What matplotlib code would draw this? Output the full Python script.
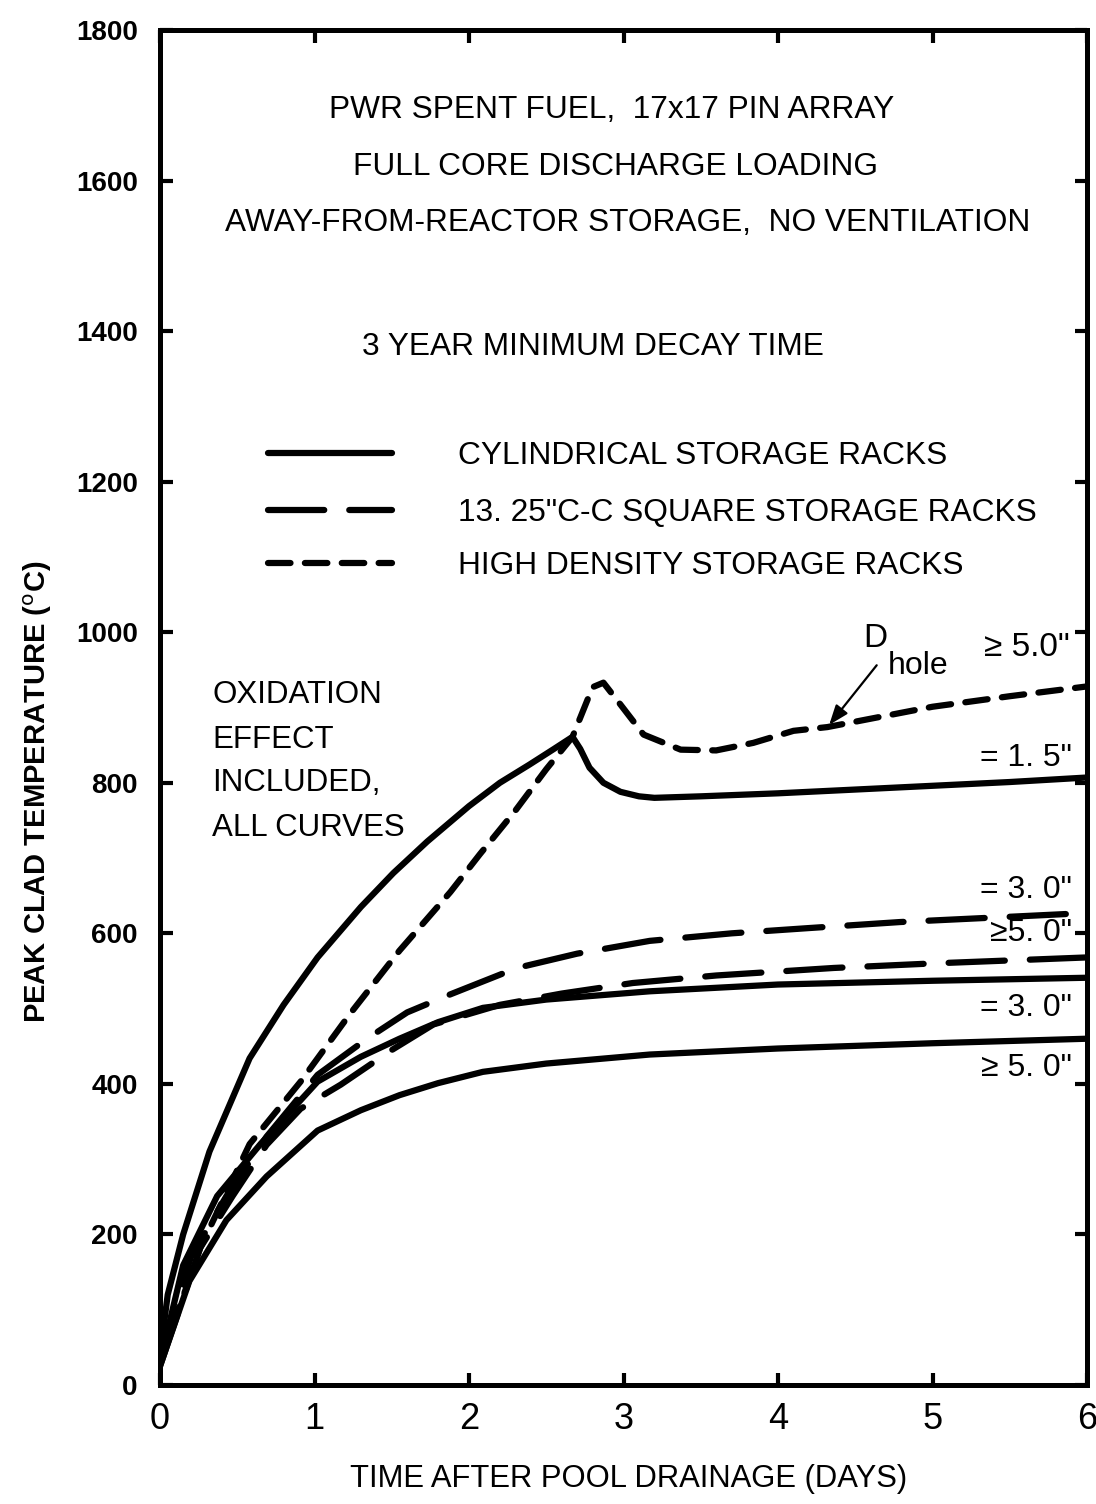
import numpy as np
import matplotlib
matplotlib.use('Agg')
import matplotlib.pyplot as plt

plt.rcParams['font.family'] = ['Liberation Sans', 'DejaVu Sans']

# ---- data (days, deg C) ----
cyl_15_days = [0, 0.05, 0.15, 0.32, 0.58, 0.8, 1.02, 1.3, 1.51, 1.73, 2.0, 2.2, 2.39, 2.55,
               2.67, 2.72, 2.78, 2.87, 2.98, 3.1, 3.2, 3.5, 4.0, 4.5, 5.0, 5.5, 6.0]
cyl_15_temp = [40, 120, 200, 310, 434, 505, 568, 635, 680, 722, 769, 800, 824, 845,
               861, 845, 820, 800, 788, 782, 780, 782, 786, 791, 796, 801, 807]

cyl_30_days = [0, 0.15, 0.37, 0.65, 1.02, 1.3, 1.55, 1.8, 2.09, 2.5, 3.17, 4.0, 5.0, 6.0]
cyl_30_temp = [30, 159, 251, 320, 403, 436, 460, 482, 501, 512, 523, 532, 537, 541]

cyl_50_days = [0, 0.19, 0.43, 0.69, 1.02, 1.3, 1.55, 1.8, 2.09, 2.5, 3.17, 4.0, 5.0, 6.0]
cyl_50_temp = [25, 138, 219, 277, 338, 365, 385, 401, 416, 427, 439, 447, 454, 460]

sq_30_days = [0, 0.2, 0.43, 0.69, 1.02, 1.34, 1.6, 1.88, 2.31, 2.7, 3.17, 3.7, 4.2, 4.79, 5.4, 6.0]
sq_30_temp = [30, 170, 251, 330, 412, 460, 495, 519, 554, 573, 590, 600, 607, 615, 621, 627]

sq_50_days = [0, 0.26, 0.47, 0.69, 0.91, 1.17, 1.5, 1.77, 2.2, 2.6, 3.06, 3.6, 4.36, 5.0, 6.0]
sq_50_temp = [25, 182, 251, 319, 367, 399, 445, 479, 505, 520, 534, 544, 554, 560, 568]

hd_days = [0, 0.26, 0.58, 0.91, 1.23, 1.55, 1.88, 2.07, 2.3, 2.5, 2.67, 2.8, 2.87, 2.98, 3.13,
           3.37, 3.6, 3.84, 4.1, 4.32, 5.0, 5.5, 6.0]
hd_temp = [30, 182, 320, 403, 493, 577, 655, 705, 763, 818, 861, 927, 933, 904, 864,
           844, 843, 853, 869, 874, 901, 915, 928]

x_ticks = [0, 1, 2, 3, 4, 5, 6]
y_ticks = [0, 200, 400, 600, 800, 1000, 1200, 1400, 1600, 1800]

legend_labels = ['CYLINDRICAL STORAGE RACKS',
                 '13. 25"C-C SQUARE STORAGE RACKS',
                 'HIGH DENSITY STORAGE RACKS']

# ---- styles ----
LW = 4.5
solid = dict(color='black', lw=LW, solid_capstyle='round', solid_joinstyle='round')
long_dash = dict(color='black', lw=LW, dashes=(9, 4), dash_capstyle='round')
short_dash = dict(color='black', lw=LW, dashes=(3.6, 2.3), dash_capstyle='round')

fig = plt.figure(figsize=(10.96, 15.04), dpi=100)
ax = fig.add_axes([160 / 1096, 1 - 1385 / 1504, 927 / 1096, 1355 / 1504])

ax.plot(cyl_15_days, cyl_15_temp, **solid)
ax.plot(cyl_30_days, cyl_30_temp, **solid)
ax.plot(cyl_50_days, cyl_50_temp, **solid)
ax.plot(sq_30_days, sq_30_temp, **long_dash)
ax.plot(sq_50_days, sq_50_temp, **long_dash)
ax.plot(hd_days, hd_temp, **short_dash)

ax.set_xlim(0, 6)
ax.set_ylim(0, 1800)
ax.set_xticks(x_ticks)
ax.set_yticks(y_ticks)
ax.set_xticklabels([str(v) for v in x_ticks], fontsize=26)
ax.set_yticklabels([str(v) for v in y_ticks], fontsize=20, fontweight='bold')
ax.tick_params(axis='both', direction='in', length=9, width=3,
               top=True, right=True)
ax.tick_params(axis='x', pad=12)
ax.tick_params(axis='y', pad=16)
for s in ax.spines.values():
    s.set_linewidth(3.6)

ax.set_ylabel('PEAK CLAD TEMPERATURE ($^{\\rm o}$C)', fontsize=21, fontweight='bold')
ax.yaxis.set_label_coords(-0.114, 0.4376)
ax.set_xlabel('TIME AFTER POOL DRAINAGE (DAYS)', fontsize=22.3)
ax.xaxis.set_label_coords(0.506, -0.058)

# ---- header text ----
FS = 22.8
txt = dict(fontsize=FS, ha='center', va='center')
ax.text(2.92, 1694, 'PWR SPENT FUEL,  17x17 PIN ARRAY', **txt)
ax.text(2.945, 1618, 'FULL CORE DISCHARGE LOADING', **txt)
ax.text(3.03, 1544, 'AWAY-FROM-REACTOR STORAGE,  NO VENTILATION', **txt)
ax.text(2.80, 1379, '3 YEAR MINIMUM DECAY TIME', **txt)

# ---- legend drawn by hand ----
leg_y = [1238, 1162, 1092]
leg_styles = [solid, long_dash, short_dash]
for yy, st, lab in zip(leg_y, leg_styles, legend_labels):
    ax.plot([0.70, 1.50], [yy, yy], **st)
    ax.text(1.93, yy - 4, lab, fontsize=FS, ha='left', va='center')

# ---- notes ----
note = dict(fontsize=22.5, ha='left', va='center')
ax.text(0.337, 917, 'OXIDATION', **note)
ax.text(0.337, 857, 'EFFECT', **note)
ax.text(0.337, 800, 'INCLUDED,', **note)
ax.text(0.337, 740, 'ALL CURVES', **note)

ax.text(4.63, 991, 'D', fontsize=24, ha='center', va='center')
ax.text(4.71, 955, 'hole', fontsize=23, ha='left', va='center')
ax.text(5.89, 980, '\u2265 5.0"', fontsize=24, ha='right', va='center')
ax.annotate('', xy=(4.32, 874), xytext=(4.65, 959),
            arrowprops=dict(arrowstyle='-|>,head_length=1.2,head_width=0.45',
                            color='black', lw=1.6))

rlab = dict(fontsize=23, ha='right', va='center')
ax.text(5.90, 833, '= 1. 5"', **rlab)
ax.text(5.90, 658, '= 3. 0"', **rlab)
ax.text(5.90, 600, '\u22655. 0"', **rlab)
ax.text(5.90, 501, '= 3. 0"', **rlab)
ax.text(5.90, 421, '\u2265 5. 0"', **rlab)

fig.savefig('out.png', dpi=100)
